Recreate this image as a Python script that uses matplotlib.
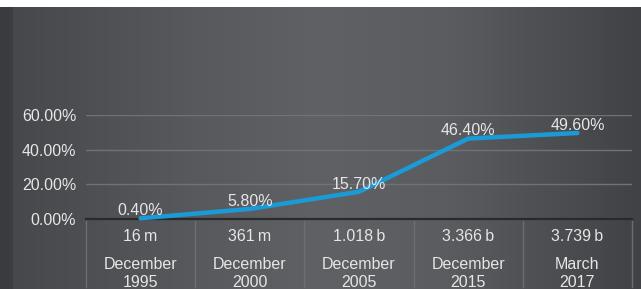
import matplotlib
matplotlib.use("Agg")
import matplotlib.pyplot as plt
from matplotlib.colors import LinearSegmentedColormap
import numpy as np

# data
months = ["December", "December", "December", "December", "March"]
years = ["1995", "2000", "2005", "2015", "2017"]
users = ["16\u2009m", "361\u2009m", "1.018\u2009b", "3.366\u2009b", "3.739\u2009b"]
share = [0.4, 5.8, 15.7, 46.4, 49.6]
yticks = [0, 20, 40, 60]

plt.rcParams['font.family'] = ['Liberation Sans', 'DejaVu Sans']
txt = '#e6e6e6'
fs = 11.5

fig = plt.figure(figsize=(6.41, 2.89), dpi=100)
fig.patch.set_facecolor('white')

# dark gradient backdrop
bg = fig.add_axes([0, 0, 1, 1 - 7 / 289], zorder=-10)
cmap = LinearSegmentedColormap.from_list('bg', [
    (0.0, '#3a3b3e'), (0.014, '#3a3b3e'), (0.02, '#47484c'), (0.3, '#58595d'),
    (0.5, '#5f6164'), (0.7, '#5b5c60'), (0.9, '#4a4b4f'), (1.0, '#414245')])
bg.imshow(np.linspace(0, 1, 641)[None, :], aspect='auto', cmap=cmap, extent=[0, 1, 0, 1])
bg.axis('off')

ax = fig.add_axes([86 / 641, (289 - 219) / 289, (632 - 86) / 641, 104 / 289])
ax.patch.set_alpha(0)
x = np.arange(len(share))
ax.set_xlim(-0.5, len(share) - 0.5)
ax.set_ylim(0, 60)

for v in yticks[1:]:
    ax.axhline(v, color='#707275', lw=1, zorder=1)
ax.axhline(0, color='#2a2a2c', lw=1.6, zorder=2, clip_on=False)

ax.plot(x, share, color='#1a9bd7', lw=3.2, solid_capstyle='round', zorder=3, clip_on=False)
for xi, v in zip(x, share):
    ax.annotate(f"{v:.2f}%", (xi, v), xytext=(0, 5.5), textcoords='offset points',
                ha='center', va='center', color=txt, fontsize=fs, zorder=4)

tr = ax.get_xaxis_transform()
for xi, u, m, yr in zip(x, users, months, years):
    ax.text(xi, -0.165, u, transform=tr, ha='center', va='center', color=txt, fontsize=fs)
    ax.text(xi, -0.435, m, transform=tr, ha='center', va='center', color=txt, fontsize=fs)
    ax.text(xi, -0.61, yr, transform=tr, ha='center', va='center', color=txt, fontsize=fs)
for b in np.arange(len(share) + 1) - 0.5:
    ax.plot([b, b], [-0.02, -0.65], transform=tr, color='#6c6e71', lw=1, clip_on=False)

ax.set_yticks(yticks)
ax.set_yticklabels([f"{v:.2f}%" for v in yticks], color=txt, fontsize=fs)
ax.tick_params(axis='y', length=0, pad=7)
ax.set_xticks([])
for s in ax.spines.values():
    s.set_visible(False)

fig.savefig('out.png', dpi=100)
